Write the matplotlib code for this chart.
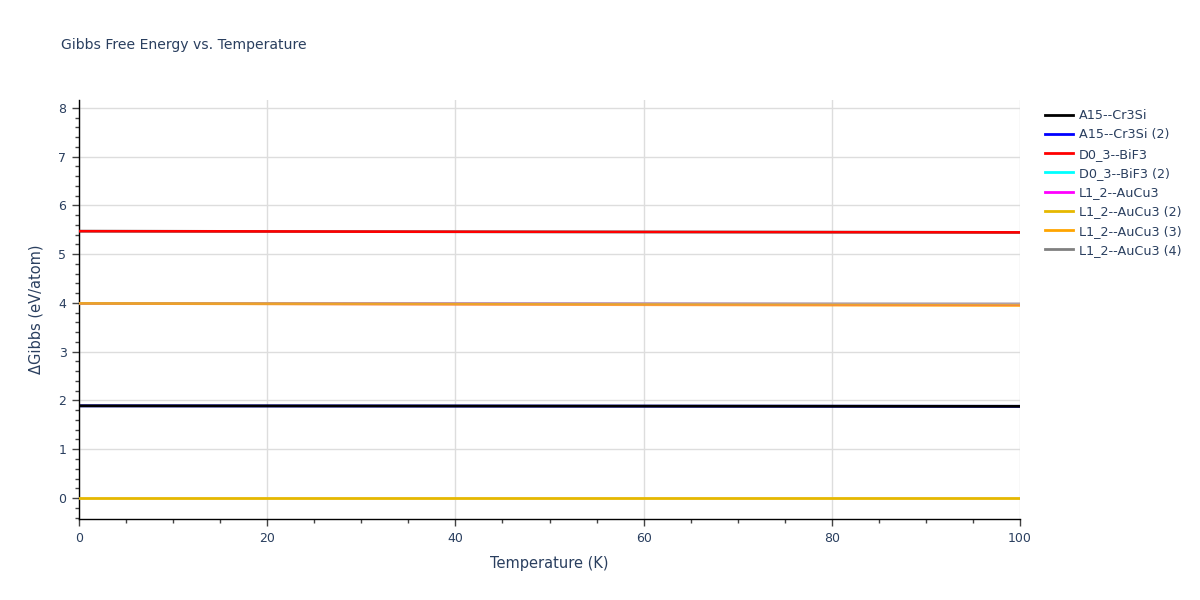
import matplotlib.pyplot as plt
from matplotlib.ticker import MultipleLocator

# Temperaturas (K)
temperature = [0, 20, 40, 60, 80, 100]

# Energía libre de Gibbs (eV/atom)
a15_cr3si = [1.890, 1.888, 1.886, 1.884, 1.882, 1.880]
a15_cr3si_2 = [1.890, 1.888, 1.886, 1.884, 1.882, 1.880]
d03_bif3 = [5.470, 5.465, 5.460, 5.455, 5.450, 5.445]
d03_bif3_2 = [5.470, 5.465, 5.460, 5.455, 5.450, 5.445]
l12_aucu3 = [3.990, 3.985, 3.980, 3.975, 3.970, 3.965]
l12_aucu3_2 = [0.0, 0.0, 0.0, 0.0, 0.0, 0.0]
l12_aucu3_3 = [3.990, 3.981, 3.972, 3.963, 3.954, 3.945]
l12_aucu3_4 = [3.990, 3.988, 3.986, 3.984, 3.982, 3.980]

# nombre, datos, color, zorder, alpha
series = [
    ('A15--Cr3Si', a15_cr3si, 'black', 6, 1.0),
    ('A15--Cr3Si (2)', a15_cr3si_2, 'blue', 2, 1.0),
    ('D0_3--BiF3', d03_bif3, 'red', 6, 1.0),
    ('D0_3--BiF3 (2)', d03_bif3_2, 'cyan', 2, 1.0),
    ('L1_2--AuCu3', l12_aucu3, 'magenta', 3, 1.0),
    ('L1_2--AuCu3 (2)', l12_aucu3_2, '#e6b800', 4, 1.0),
    ('L1_2--AuCu3 (3)', l12_aucu3_3, 'orange', 5, 0.75),
    ('L1_2--AuCu3 (4)', l12_aucu3_4, '#b0a0a8', 4, 1.0),
]
legend_colors = ['black', 'blue', 'red', 'cyan', 'magenta', '#e6b800', 'orange', 'gray']

text_color = '#2a3f5f'
plt.rcParams['font.family'] = ['DejaVu Sans']

fig = plt.figure(figsize=(12, 6), dpi=100)
ax = fig.add_axes([79 / 1200, 81 / 600, (1020 - 79) / 1200, (519 - 100) / 600])

for name, values, color, z, a in series:
    ax.plot(temperature, values, color=color, linewidth=2, alpha=a, label=name, zorder=z)

ax.set_xlim(0, 100)
ax.set_ylim(-0.43, 8.16)
ax.xaxis.set_major_locator(MultipleLocator(20))
ax.xaxis.set_minor_locator(MultipleLocator(5))
ax.yaxis.set_major_locator(MultipleLocator(1))
ax.yaxis.set_minor_locator(MultipleLocator(0.2))

ax.grid(True, which='major', color='#dddddd', linewidth=1, zorder=0)
ax.set_axisbelow(True)
for side in ['top', 'right']:
    ax.spines[side].set_visible(False)
for side in ['left', 'bottom']:
    ax.spines[side].set_color('black')
    ax.spines[side].set_linewidth(1)

ax.tick_params(which='major', direction='out', length=5, width=1, color='#444444',
               labelsize=9, labelcolor=text_color, pad=4)
ax.tick_params(which='minor', direction='out', length=3, width=1, color='#444444')

ax.set_xlabel('Temperature (K)', fontsize=10.5, color=text_color, labelpad=8)
ax.set_ylabel('ΔGibbs (eV/atom)', fontsize=10.5, color=text_color, labelpad=11)

fig.text(61 / 1200, 1 - 45 / 600, 'Gibbs Free Energy vs. Temperature',
         fontsize=10.1, color=text_color, va='center', ha='left')

leg_handles = [plt.Line2D([], [], color=c, linewidth=2) for c in legend_colors]
fig.legend(leg_handles, [s[0] for s in series], loc='upper left',
           bbox_to_anchor=(1040 / 1200, 1 - 104 / 600), frameon=False,
           fontsize=9.2, labelcolor=text_color, handlelength=2.2,
           handletextpad=0.45, labelspacing=0.49, borderaxespad=0)

fig.savefig('out.png', dpi=100, facecolor='white')
